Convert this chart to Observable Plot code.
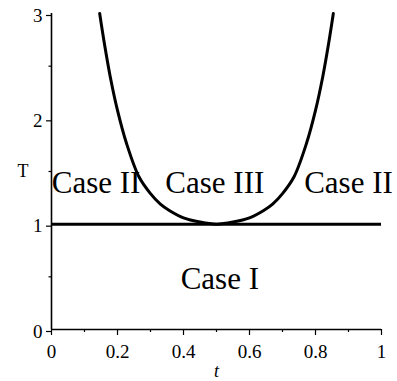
<!DOCTYPE html>
<html>
<head>
<meta charset="utf-8">
<script src="https://cdn.jsdelivr.net/npm/d3@7"></script>
<script src="https://cdn.jsdelivr.net/npm/@observablehq/plot@0.6"></script>
<style>
  html, body { margin: 0; padding: 0; background: white; }
  #chart svg, #chart svg text {
    font-family: "Liberation Serif", "Tinos", "Times New Roman", "Times", "DejaVu Serif", "Noto Serif", "Nimbus Roman", "FreeSerif", serif !important;
  }
</style>
</head>
<body>
<div id="chart"></div>
<script>
// Curve
const tValues = [0.146, 0.160, 0.178, 0.200, 0.227, 0.265, 0.300, 0.330, 0.357, 0.400, 0.450, 0.500,
                 0.550, 0.600, 0.643, 0.670, 0.700, 0.735, 0.773, 0.800, 0.822, 0.840, 0.854];
const TValues = [3.00, 2.72, 2.40, 2.08, 1.77, 1.45, 1.29, 1.19, 1.13, 1.06, 1.02, 1.00,
                 1.02, 1.06, 1.13, 1.19, 1.29, 1.45, 1.77, 2.08, 2.40, 2.72, 3.00];
// Horizontal boundary
const boundaryT = [1];
// Region labels
const regionNames = ["Case II", "Case III", "Case II", "Case I"];
const regionT = [0.135, 0.495, 0.90, 0.51];
const regionY = [1.39, 1.39, 1.39, 0.48];
// Ticks
const xTicks = [0, 0.2, 0.4, 0.6, 0.8, 1];
const xTickLabels = ["0", "0.2", "0.4", "0.6", "0.8", "1"];
const xMinor = [0.1, 0.3, 0.5, 0.7, 0.9];
const yTicks = [0, 1, 2, 3];
const yTickLabels = ["0", "1", "2", "3"];
const yMinor = [0.5, 1.5, 2.5];

const curve = tValues.map((t, i) => ({t, T: TValues[i]}));
const labels = regionNames.map((name, i) => ({name, t: regionT[i], T: regionY[i]}));

const font = "'Liberation Serif', 'Times New Roman', 'DejaVu Serif', serif";

const plot = Plot.plot({
  width: 397,
  height: 381,
  marginLeft: 51,
  marginRight: 16,
  marginTop: 13,
  marginBottom: 52,
  style: {background: "white", color: "black"},
  x: {domain: [0, 1]},
  y: {domain: [0, 3]},
  marks: [
    Plot.axisX({ticks: xTicks, tickFormat: (d, i) => xTickLabels[i], tickSize: 6, tickPadding: 9,
                fontSize: 19, fontFamily: font, label: null, strokeWidth: 1.2}),
    Plot.axisX({ticks: xMinor, tickSize: 3, text: null, label: null, strokeWidth: 1.2}),
    Plot.axisY({ticks: yTicks, tickFormat: (d, i) => yTickLabels[i], tickSize: 5, tickPadding: 4,
                fontSize: 19, fontFamily: font, label: null, dy: 2, strokeWidth: 1.2}),
    Plot.axisY({ticks: yMinor, tickSize: 2.5, text: null, label: null, strokeWidth: 1.2}),
    Plot.ruleX([0], {strokeWidth: 1.6}),
    Plot.ruleY([0], {strokeWidth: 1.6}),
    Plot.ruleY(boundaryT, {strokeWidth: 3, stroke: "black"}),
    Plot.line(curve, {x: "t", y: "T", curve: "catmull-rom", strokeWidth: 3, stroke: "black"}),
    Plot.text(labels, {x: "t", y: "T", text: "name", fontSize: 31, fontFamily: font, lineAnchor: "middle",
                       textAnchor: "middle", fill: "black"}),
    Plot.text(["T"], {frameAnchor: "left", dx: -34, fontSize: 18, fontFamily: font, lineAnchor: "middle", fill: "black"}),
    Plot.text(["t"], {frameAnchor: "bottom", dy: 42, fontSize: 18, fontFamily: font, fontStyle: "italic",
                      lineAnchor: "middle", fill: "black"})
  ]
});
document.getElementById("chart").appendChild(plot);
</script>
</body>
</html>
